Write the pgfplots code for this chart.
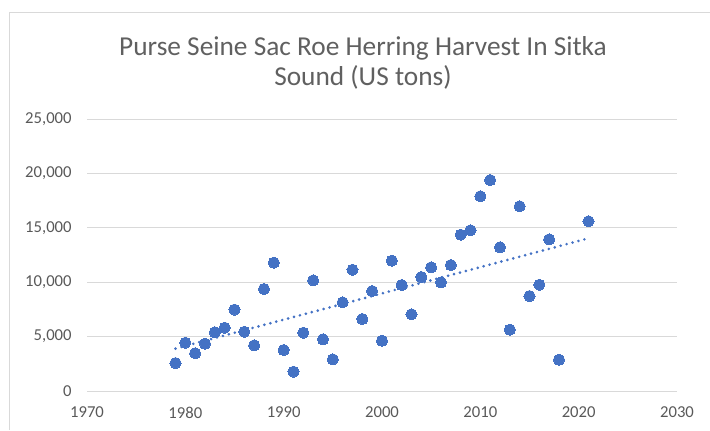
\documentclass[border=0pt]{standalone}
\usepackage{pgfplots}
\usepackage{pgfplotstable}
\pgfplotsset{compat=1.18}
\usepackage{fontspec}
\setmainfont{Carlito}
\definecolor{mk}{RGB}{68,114,196}
\definecolor{grd}{RGB}{217,217,217}
\definecolor{txt}{RGB}{89,89,89}
\definecolor{ttl}{RGB}{96,96,96}
\pgfplotstableread{
x y
1979 2570
1980 4440
1981 3470
1982 4350
1983 5400
1984 5820
1985 7480
1986 5450
1987 4200
1988 9380
1989 11800
1990 3770
1991 1780
1992 5360
1993 10170
1994 4750
1995 2910
1996 8150
1997 11150
1998 6620
1999 9190
2000 4620
2001 11980
2002 9740
2003 7050
2004 10480
2005 11370
2006 9990
2007 11580
2008 14370
2009 14770
2010 17900
2011 19390
2012 13210
2013 5640
2014 16980
2015 8730
2016 9770
2017 13940
2018 2880
2021 15600
}\datatable
\begin{document}
\begin{tikzpicture}
\begin{scope}[x=0.75pt,y=0.75pt]
\path[use as bounding box] (0,0) rectangle (710,430);
\draw[grd, line width=0.75pt] (9,0) -- (9,418) -- (710,418);
\node[align=center, font=\fontsize{20.5}{23}\selectfont, text=ttl] at (363,367) {Purse Seine Sac Roe Herring Harvest In Sitka\\Sound (US tons)};
\end{scope}
\begin{axis}[
  at={(65.25pt,29.25pt)}, anchor=south west,
  scale only axis, width=442.5pt, height=204pt,
  xmin=1970, xmax=2030, ymin=0, ymax=25000,
  xtick={1970,1980,...,2030},
  ytick={0,5000,...,25000},
  ymajorgrids, grid style={grd, line width=0.75pt},
  axis line style={draw=none},
  major tick length=0pt,
  scaled y ticks=false,
  /pgf/number format/assume math mode=true,
  tick label style={font=\fontsize{12.5}{14}\selectfont, text=txt},
  x tick label style={/pgf/number format/1000 sep={}, yshift=-8.5pt},
  y tick label style={/pgf/number format/1000 sep={,}, xshift=-8pt},
  clip=false,
]
\addplot[only marks, mark=*, mark size=4.2pt, mark options={fill=mk, draw=mk, line width=0pt}] table[x=x,y=y] {\datatable};
\addplot[mk, line width=2.2pt, line cap=round, dash pattern=on 0pt off 4.6pt, no marks] table[x=x, y={create col/linear regression={y=y}}] {\datatable};
\end{axis}
\end{tikzpicture}
\end{document}
